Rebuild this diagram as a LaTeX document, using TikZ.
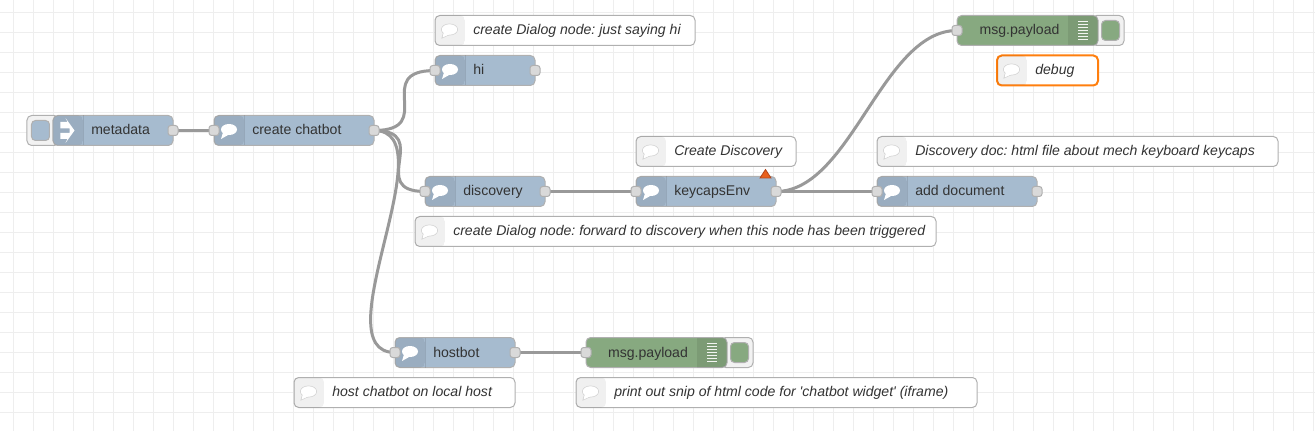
\documentclass[tikz,border=0pt]{standalone}
\usepackage{fontspec}
\setmainfont{Liberation Sans}
\frenchspacing
\definecolor{nblue}{HTML}{A6BBCF}
\definecolor{ngreen}{HTML}{87A980}
\definecolor{nedge}{HTML}{B0B0B0}
\definecolor{ntext}{HTML}{333333}
\definecolor{wire}{HTML}{999999}
\definecolor{gridc}{HTML}{EEEEEE}
\definecolor{portc}{HTML}{D9D9D9}
\definecolor{sel}{HTML}{FF7F0E}
\definecolor{warnf}{HTML}{E8601C}
\definecolor{warnd}{HTML}{B5451A}
\pgfdeclarelayer{back}
\pgfdeclarelayer{wires}
\pgfsetlayers{back,wires,main}
\tikzset{
  x=0.75pt,y=-0.75pt,
  body/.style={draw=nedge,line width=0.75pt,rounded corners=3.5pt,anchor=north west,inner sep=0pt,outer sep=0pt,minimum height=22.5pt},
  port/.style={draw=nedge,fill=portc,line width=0.75pt,rounded corners=2pt,minimum width=7.5pt,minimum height=7.5pt,inner sep=0pt,outer sep=0pt},
  lab/.style={text=ntext,font=\fontsize{10.56pt}{12pt}\selectfont,anchor=west,inner sep=0pt,text height=9.25pt,text depth=2.5pt},
  clab/.style={lab,font=\fontsize{10.56pt}{12pt}\selectfont\itshape},
  wirel/.style={draw=wire,line width=2.25pt},
  btnbox/.style={body,fill=black!5,draw=nedge,minimum width=24pt},
  btnface/.style={draw=nedge,rounded corners=3pt,line width=0.75pt,minimum width=13.5pt,minimum height=15pt,inner sep=0pt},
}
\newcommand{\bubble}[2]{%
  \fill[white] (#1,#2) ellipse [x radius=8,y radius=5.5];
  \fill[white] (#1-6,#2+3) -- (#1-8,#2+9.5) -- (#1+0,#2+5) -- cycle;}
\newcommand{\cbubble}[2]{%
  \draw[black!18,line width=0.6pt] (#1,#2) ellipse [x radius=8,y radius=5.5];
  \draw[black!18,line width=0.6pt] (#1-6,#2+3) -- (#1-7.5,#2+8.5) -- (#1+0,#2+5);
  \fill[white] (#1,#2) ellipse [x radius=7.7,y radius=5.2];
  \fill[white] (#1-5.7,#2+3) -- (#1-7,#2+8) -- (#1+0,#2+4.8) -- cycle;}
% \flownode{name}{x}{y}{w}{colour}{label}
\newcommand{\flownode}[6]{%
  \node[body,fill=#5,minimum width=#4*0.75pt] (#1) at (#2,#3) {};
  \begin{scope}
    \clip[rounded corners=3.5pt] (#2,#3) rectangle ++(30,30);
    \fill[black,opacity=0.07] (#2,#3) rectangle ++(30,30);
  \end{scope}
  \draw[black,opacity=0.1,line width=0.75pt] (#2+30,#3) -- ++(0,30);
  \node[lab] (#1-t) at (#2+38,#3+15) {#6};
}
% \flowcomment{name}{x}{y}{w}{label}
\newcommand{\flowcomment}[5]{%
  \node[body,fill=white,minimum width=#4*0.75pt] (#1) at (#2,#3) {};
  \begin{scope}
    \clip[rounded corners=3.5pt] (#2,#3) rectangle ++(30,30);
    \fill[black,opacity=0.06] (#2,#3) rectangle ++(30,30);
  \end{scope}
  \node[clab] (#1-t) at (#2+38,#3+15) {#5};
  \cbubble{#2+14.5}{#3+14}
}
% \debugnode{name}{x}{y}{label x}
\newcommand{\debugnode}[4]{%
  \node[body,fill=ngreen,minimum width=105.75pt] (#1) at (#2,#3) {};
  \begin{scope}
    \clip[rounded corners=3.5pt] (#2,#3) rectangle ++(141,30);
    \fill[black,opacity=0.08] (#2+111,#3) rectangle ++(30,30);
  \end{scope}
  \node[lab,anchor=center] (#1-t) at (#4,#3+15) {msg.payload};
  \foreach \k in {-9,-6,...,9} \draw[white,opacity=0.9,line width=0.65pt] (#2+121,#3+15+\k) -- (#2+131,#3+15+\k);
}
\begin{document}
\begin{tikzpicture}
\useasboundingbox (0.5,0) rectangle (1315.5,431);
\begin{pgfonlayer}{back}
\fill[white] (0,0) rectangle (1316,432);
\foreach \gx in {14,34,...,1314} \draw[gridc,line width=0.6pt] (\gx,0) -- (\gx,432);
\foreach \gy in {12,32,...,432} \draw[gridc,line width=0.6pt] (0,\gy) -- (1316,\gy);
\end{pgfonlayer}

% comments
\flowcomment{cmA}{435.5}{15.5}{260}{create Dialog node: just saying hi}
\flowcomment{cmB}{636.5}{136.5}{160}{Create Discovery}
\flowcomment{cmC}{877.5}{136.5}{401}{Discovery doc: html file about mech keyboard keycaps}
\flowcomment{cmD}{415.5}{216.5}{521}{create Dialog node: forward to discovery when this node has been triggered}
\flowcomment{cmE}{294.5}{377.5}{221}{host chatbot on local host}
\flowcomment{cmF}{576.5}{377.5}{401}{print out snip of html code for \textquotesingle chatbot widget\textquotesingle\ (iframe)}
\node[body,fill=white,draw=sel,line width=1.5pt,minimum width=75.75pt] (cmG) at (997.5,55.5) {};
\begin{scope}
  \clip[rounded corners=3.5pt] (997.5,55.5) rectangle ++(30,30);
  \fill[black,opacity=0.06] (997.5,55.5) rectangle ++(30,30);
\end{scope}
\node[clab] (cmG-t) at (1035.5,70.5) {debug};
\cbubble{1012}{69.5}

% buttons behind nodes
\node[btnbox,minimum width=24pt] (metabtn) at (27.5,115.5) {};
\node[btnface,fill=nblue] (metaface) at (41,130.5) {};
\node[btnbox,minimum width=24pt] (dbgAbtn) at (1092.5,15.5) {};
\node[btnface,fill=ngreen] (dbgAface) at (1111,30.5) {};
\node[btnbox,minimum width=24pt] (dbgBbtn) at (721.5,337.5) {};
\node[btnface,fill=ngreen] (dbgBface) at (740,352.5) {};

% nodes
\flownode{meta}{53.5}{115.5}{120}{nblue}{metadata}
\flownode{chat}{214.5}{115.5}{160}{nblue}{create chatbot}
\flownode{hi}{435.5}{55.5}{100}{nblue}{hi}
\flownode{disc}{425.5}{176.5}{120}{nblue}{discovery}
\flownode{keys}{636.5}{176.5}{140}{nblue}{keycapsEnv}
\flownode{adddoc}{877.5}{176.5}{160}{nblue}{add document}
\flownode{host}{395.5}{337.5}{120}{nblue}{hostbot}
\debugnode{dbgA}{957.5}{15.5}{1020}
\debugnode{dbgB}{586.5}{337.5}{648.5}

% icons
\bubble{229.5}{129.5}
\bubble{450.5}{69.5}
\bubble{440.5}{190.5}
\bubble{651.5}{190.5}
\bubble{892.5}{190.5}
\bubble{410.5}{351.5}
\fill[white] (61,122) -- (68,122) -- (66,118) -- (75,130.5) -- (66,143) -- (68,139) -- (61,139) -- (61,133) -- (70,133) -- (70,128.5) -- (61,128.5) -- cycle;

% warning triangle
\draw[fill=warnf,draw=warnd,line width=0.6pt] (760.5,178) -- (766,169.5) -- (771.5,178) -- cycle;

% ports
\node[port] (metaOut) at (173.5,130.5) {};
\node[port] (chatIn) at (214.5,130.5) {};
\node[port] (chatOut) at (374.5,130.5) {};
\node[port] (hiIn) at (435.5,70.5) {};
\node[port] (hiOut) at (535.5,70.5) {};
\node[port] (discIn) at (425.5,191.5) {};
\node[port] (discOut) at (545.5,191.5) {};
\node[port] (keysIn) at (636.5,191.5) {};
\node[port] (keysOut) at (776.5,191.5) {};
\node[port] (addIn) at (877.5,191.5) {};
\node[port] (addOut) at (1037.5,191.5) {};
\node[port] (hostIn) at (395.5,352.5) {};
\node[port] (hostOut) at (515.5,352.5) {};
\node[port] (dbgAIn) at (957.5,30.5) {};
\node[port] (dbgBIn) at (586.5,352.5) {};

% wires
\begin{pgfonlayer}{wires}
\draw[wirel] (metaOut.center) -- (chatIn.center);
\draw[wirel] (chatOut.center) .. controls +(64,0) and +(-64,0) .. (hiIn.center);
\draw[wirel] (chatOut.center) .. controls +(59,0) and +(-59,0) .. (discIn.center);
\draw[wirel] (chatOut.center) .. controls +(75,0) and +(-75,0) .. (hostIn.center);
\draw[wirel] (discOut.center) -- (keysIn.center);
\draw[wirel] (keysOut.center) .. controls +(75,0) and +(-75,0) .. (dbgAIn.center);
\draw[wirel] (keysOut.center) -- (addIn.center);
\draw[wirel] (hostOut.center) -- (dbgBIn.center);
\end{pgfonlayer}
\end{tikzpicture}
\end{document}
